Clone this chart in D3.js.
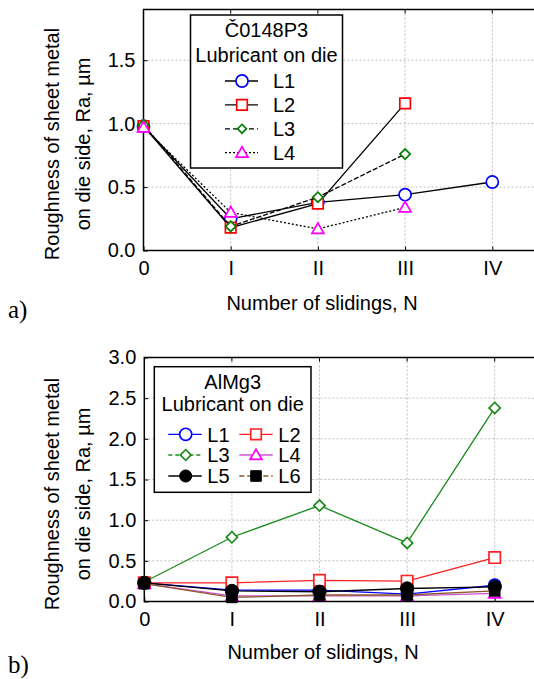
<!DOCTYPE html>
<html>
<head>
<meta charset="utf-8">
<script src="https://cdn.jsdelivr.net/npm/d3@7"></script>
<style>
  html, body { margin: 0; padding: 0; background: #ffffff; }
  svg { display: block; }
</style>
</head>
<body>
<div id="chart"></div>
<script>
// Sliding count categories (x axis)
const xLabels = ['0', 'I', 'II', 'III', 'IV'];

// a) C0148P3 steel, Ra in um
const topL1 = [0.98, 0.25, 0.38, 0.44, 0.54];
const topL2 = [0.98, 0.18, 0.37, 1.16, null];
const topL3 = [0.99, 0.19, 0.42, 0.76, null];
const topL4 = [0.97, 0.30, 0.17, 0.34, null];
const topTicks = [0, 0.5, 1.0, 1.5];

// b) AlMg3, Ra in um
const botL1 = [0.23, 0.14, 0.14, 0.09, 0.20];
const botL2 = [0.23, 0.23, 0.26, 0.25, 0.54];
const botL3 = [0.24, 0.79, 1.18, 0.72, 2.38];
const botL4 = [0.22, 0.07, 0.07, 0.07, 0.10];
const botL5 = [0.23, 0.13, 0.12, 0.16, 0.18];
const botL6 = [0.22, 0.05, 0.08, 0.08, 0.13];
const botTicks = [0, 0.5, 1.0, 1.5, 2.0, 2.5, 3.0];

const FONT = "'Liberation Sans', Arial, Helvetica, sans-serif";
const SERIF = "'Liberation Serif', 'Times New Roman', serif";
const FS = 20;

const W = 534, H = 679;
const svg = d3.select('#chart').append('svg')
  .attr('width', W).attr('height', H)
  .attr('viewBox', `0 0 ${W} ${H}`);

function marker(g, type, x, y, colour, filled, scale = 1) {
  let path;
  if (type === 'circle') {
    path = d3.symbol(d3.symbolCircle, 115 * scale)();
  } else if (type === 'square') {
    path = d3.symbol(d3.symbolSquare, 112 * scale)();
  } else if (type === 'diamond') {
    path = d3.symbol(d3.symbolSquare, 52 * scale)();
  } else {
    path = d3.symbol(d3.symbolTriangle, 62 * scale)();
  }
  g.append('path')
    .attr('d', path)
    .attr('transform', `translate(${x},${y + (type === 'triangle' ? 1 : 0)}) rotate(${type === 'diamond' ? 45 : 0})`)
    .attr('fill', filled ? colour : '#ffffff')
    .attr('stroke', colour)
    .attr('stroke-width', filled ? 1 : 1.7);
}

function drawPanel(cfg) {
  const g = svg.append('g');
  const x = d3.scaleLinear().domain([0, 4.5]).range([cfg.left, cfg.left + 4.5 * cfg.step]);
  const y = d3.scaleLinear().domain([0, cfg.yMax]).range([cfg.bottom, cfg.top]);
  const right = x(4.5);

  // dotted grid
  g.selectAll('line.vgrid').data([1, 2, 3, 4]).enter().append('line')
    .attr('x1', d => x(d)).attr('x2', d => x(d))
    .attr('y1', cfg.top).attr('y2', cfg.bottom)
    .attr('stroke', '#bdbdbd').attr('stroke-width', 1).attr('stroke-dasharray', '2,2');
  g.selectAll('line.hgrid').data(cfg.ticks.filter(t => t > 0 && t < cfg.yMax)).enter().append('line')
    .attr('x1', cfg.left).attr('x2', right)
    .attr('y1', d => y(d)).attr('y2', d => y(d))
    .attr('stroke', '#bdbdbd').attr('stroke-width', 1).attr('stroke-dasharray', '2,2');

  // frame
  g.append('rect')
    .attr('x', cfg.left).attr('y', cfg.top)
    .attr('width', right - cfg.left).attr('height', cfg.bottom - cfg.top)
    .attr('fill', 'none').attr('stroke', '#000').attr('stroke-width', 1.5);

  // axes with inward ticks
  const yAxis = d3.axisLeft(y).tickValues(cfg.ticks).tickSizeInner(-4).tickSizeOuter(0)
    .tickPadding(8).tickFormat(d3.format('.1f'));
  const ya = g.append('g').attr('transform', `translate(${cfg.left},0)`).call(yAxis);
  ya.select('.domain').remove();
  ya.selectAll('text').attr('font-family', FONT).attr('font-size', FS).attr('fill', '#000');

  const xAxis = d3.axisBottom(x).tickValues([0, 1, 2, 3, 4]).tickSizeInner(-4).tickSizeOuter(0)
    .tickPadding(10).tickFormat((d, i) => xLabels[i]);
  const xa = g.append('g').attr('transform', `translate(0,${cfg.bottom})`).call(xAxis);
  xa.select('.domain').remove();
  xa.selectAll('text').attr('font-family', FONT).attr('font-size', FS).attr('fill', '#000');

  // top inward ticks
  g.selectAll('line.tt').data([1, 2, 3, 4]).enter().append('line')
    .attr('x1', d => x(d)).attr('x2', d => x(d))
    .attr('y1', cfg.top).attr('y2', cfg.top + 4)
    .attr('stroke', '#000');

  // series
  const line = d3.line()
    .defined(d => d != null)
    .x((d, i) => x(i))
    .y(d => y(d));

  for (const s of cfg.series) {
    g.append('path')
      .datum(s.values)
      .attr('d', line)
      .attr('fill', 'none')
      .attr('stroke', s.line)
      .attr('stroke-width', 1.3)
      .attr('stroke-dasharray', s.dash || null);
    s.values.forEach((v, i) => {
      if (v != null) marker(g, s.shape, x(i), y(v), s.colour, s.filled, s.scale || 1);
    });
  }

  // axis titles
  g.append('text')
    .attr('x', cfg.xTitleX).attr('y', cfg.xTitleY)
    .attr('text-anchor', 'middle')
    .attr('font-family', FONT).attr('font-size', FS)
    .text('Number of slidings, N');

  const yt = g.append('g').attr('font-family', FONT).attr('font-size', FS).attr('text-anchor', 'middle');
  yt.append('text').attr('transform', `translate(59,${cfg.yTitleY}) rotate(-90)`)
    .text('Roughness of sheet metal');
  yt.append('text').attr('transform', `translate(90,${cfg.yTitleY}) rotate(-90)`)
    .text('on die side, Ra, \u00b5m');

  g.append('text')
    .attr('x', 8).attr('y', cfg.panelY)
    .attr('font-family', SERIF).attr('font-size', 25)
    .text(cfg.panel);

  return g;
}

function legendEntry(g, s, lx1, lx2, mx, tx, cy) {
  g.append('line')
    .attr('x1', lx1).attr('x2', lx2).attr('y1', cy).attr('y2', cy)
    .attr('stroke', s.line).attr('stroke-width', 1.3)
    .attr('stroke-dasharray', s.legendDash || null);
  marker(g, s.shape, mx, cy, s.colour, s.filled, s.legendScale || s.scale || 1);
  g.append('text')
    .attr('x', tx).attr('y', cy).attr('dy', '0.36em')
    .attr('font-family', FONT).attr('font-size', FS)
    .text(s.name);
}

// ---- panel a)
const topSeries = [
  { name: 'L1', values: topL1, shape: 'circle', colour: '#0000ff', line: '#000', filled: false },
  { name: 'L2', values: topL2, shape: 'square', colour: '#ff0000', line: '#000', filled: false },
  { name: 'L3', values: topL3, shape: 'diamond', colour: '#008000', line: '#000', filled: false,
    dash: '5,2', legendDash: '5,3', scale: 1, legendScale: 0.75 },
  { name: 'L4', values: topL4, shape: 'triangle', colour: '#ff00ff', line: '#000', filled: false,
    dash: '2,2', legendDash: '2,2' }
];

const gTop = drawPanel({
  left: 143.5, step: 87.2, top: 9.5, bottom: 250.5, yMax: 1.9, ticks: topTicks,
  series: topSeries, xTitleX: 322, xTitleY: 310, yTitleY: 144, panel: 'a)', panelY: 318
});

const legA = gTop.append('g');
legA.append('rect').attr('x', 190.5).attr('y', 15).attr('width', 152).attr('height', 153)
  .attr('fill', '#fff').attr('stroke', '#000').attr('stroke-width', 1.5);
legA.append('text').attr('x', 266.5).attr('y', 36.5).attr('text-anchor', 'middle')
  .attr('font-family', FONT).attr('font-size', FS).text('\u010C0148P3');
legA.append('text').attr('x', 266.5).attr('y', 62).attr('text-anchor', 'middle')
  .attr('font-family', FONT).attr('font-size', FS).text('Lubricant on die');
topSeries.forEach((s, i) => legendEntry(legA, s, 225, 258, 242, 273, 81 + i * 23.9));

// ---- panel b)
const botSeries = [
  { name: 'L1', values: botL1, shape: 'circle', colour: '#0000ff', line: '#0000ff', filled: false },
  { name: 'L2', values: botL2, shape: 'square', colour: '#ff2020', line: '#ff2020', filled: false, scale: 1.15 },
  { name: 'L3', values: botL3, shape: 'diamond', colour: '#1a8a1a', line: '#1a8a1a', filled: false,
    legendDash: '4,3', scale: 1.2 },
  { name: 'L4', values: botL4, shape: 'triangle', colour: '#ff00ff', line: '#d050d0', filled: false },
  { name: 'L5', values: botL5, shape: 'circle', colour: '#000000', line: '#000000', filled: true, scale: 1.2 },
  { name: 'L6', values: botL6, shape: 'square', colour: '#000000', line: '#8b5a2b', filled: true, legendDash: '5,3' }
];

const gBot = drawPanel({
  left: 144.3, step: 87.6, top: 357.5, bottom: 601.5, yMax: 3.0, ticks: botTicks,
  series: botSeries, xTitleX: 323, xTitleY: 658.5, yTitleY: 494, panel: 'b)', panelY: 673
});

const legB = gBot.append('g');
legB.append('rect').attr('x', 154.3).attr('y', 366.7).attr('width', 156.7).attr('height', 125.6)
  .attr('fill', '#fff').attr('stroke', '#000').attr('stroke-width', 1.5);
legB.append('text').attr('x', 232.7).attr('y', 388.5).attr('text-anchor', 'middle')
  .attr('font-family', FONT).attr('font-size', FS).text('AlMg3');
legB.append('text').attr('x', 232.7).attr('y', 410.5).attr('text-anchor', 'middle')
  .attr('font-family', FONT).attr('font-size', FS).text('Lubricant on die');
const rowsY = [434.3, 455, 476];
botSeries.forEach((s, i) => {
  const row = Math.floor(i / 2), col = i % 2;
  const ls = Object.assign({}, s, { legendScale: s.shape === 'diamond' ? 1.1 : 1 });
  if (col === 0) legendEntry(legB, ls, 168.3, 201.7, 185.7, 207.3, rowsY[row]);
  else legendEntry(legB, ls, 239.3, 272.7, 256, 278.3, rowsY[row]);
});
</script>
</body>
</html>
